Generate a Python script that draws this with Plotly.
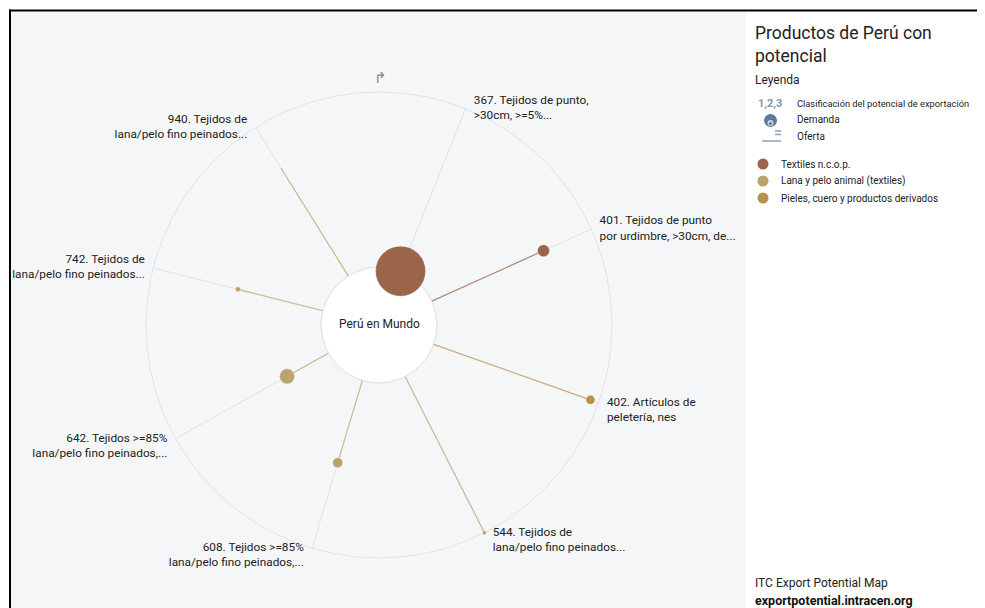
import plotly.graph_objects as go

# ---------------- data ----------------
codes = ["367", "401", "402", "544", "608", "642", "742", "940"]
labels = [
    "367. Tejidos de punto,<br>>30cm, >=5%...",
    "401. Tejidos de punto<br>por urdimbre, >30cm, de...",
    "402. Artículos de<br>peletería, nes",
    "544. Tejidos de<br>lana/pelo fino peinados...",
    "608. Tejidos >=85%<br>lana/pelo fino peinados,...",
    "642. Tejidos >=85%<br>lana/pelo fino peinados,...",
    "742. Tejidos de<br>lana/pelo fino peinados...",
    "940. Tejidos de<br>lana/pelo fino peinados...",
]
angles = [21.8, 65.7, 109.5, 153.1, 196.7, 240.8, 284.2, 328.0]
supply_pos = [0.0, 0.70, 0.95, 1.0, 0.49, 0.27, 0.50, 0.72]
demand_size = [50, 12, 9, 4, 10, 15, 5, 2]
sectors = ["Textiles n.c.o.p.", "Textiles n.c.o.p.", "Pieles, cuero y productos derivados",
           "Lana y pelo animal (textiles)", "Lana y pelo animal (textiles)",
           "Lana y pelo animal (textiles)", "Lana y pelo animal (textiles)",
           "Lana y pelo animal (textiles)"]
sector_names = ["Textiles n.c.o.p.", "Lana y pelo animal (textiles)",
                "Pieles, cuero y productos derivados"]
sector_colors = {"Textiles n.c.o.p.": "#9b654a",
                 "Lana y pelo animal (textiles)": "#bba46c",
                 "Pieles, cuero y productos derivados": "#b8914f"}

# page has an 8px body margin: work in viewport pixels and convert
OFF = 8
W, H = 985 - OFF, 608 - OFF
FONT = "Roboto, Arial, sans-serif"
CX, CY, R_OUT, R_IN = 379, 325, 233, 58


def px(x):
    return (x - OFF) / W


def py(y):
    return 1 - (y - OFF) / H


fig = go.Figure()

# spokes
for i, code in enumerate(codes):
    col = sector_colors[sectors[i]]
    fig.add_trace(go.Scatterpolar(
        r=[supply_pos[i], 1.0], theta=[angles[i], angles[i]], mode="lines",
        line=dict(color="#e1e1e1", width=1), hoverinfo="skip", showlegend=False))
    if supply_pos[i] > 0:
        fig.add_trace(go.Scatterpolar(
            r=[0, supply_pos[i]], theta=[angles[i], angles[i]], mode="lines",
            line=dict(color=col, width=1.2), opacity=0.75,
            hoverinfo="skip", showlegend=False))

# labels: pad away from the circle, lower half pushed down a little
PAD = "\u00a0\u00a0\u2009"
label_texts, positions = [], []
for lab, a in zip(labels, angles):
    lines = lab.split("<br>")
    right = a < 180
    if right:
        lines = [PAD + ln for ln in lines]
    else:
        lines = [ln + PAD for ln in lines]
    txt = "<br>".join(lines)
    if 95 < a < 265:
        txt = "\u00a0<br>" + txt
    label_texts.append(txt)
    positions.append("middle right" if right else "middle left")

fig.add_trace(go.Scatterpolar(
    r=[1.0] * len(codes), theta=angles, mode="text", text=label_texts,
    textposition=positions, cliponaxis=False,
    textfont=dict(family=FONT, size=11.8, color="#222222"),
    hoverinfo="skip", showlegend=False))

# dots
fig.add_trace(go.Scatterpolar(
    r=supply_pos, theta=angles, mode="markers", cliponaxis=False,
    marker=dict(size=demand_size, color=[sector_colors[s] for s in sectors],
                line=dict(color="rgba(255,255,255,0.6)", width=0.5), opacity=1),
    text=codes, hoverinfo="text", showlegend=False))

shapes = [
    # chart panel background
    dict(type="rect", xref="paper", yref="paper", x0=px(11), x1=px(746), y0=0, y1=py(11),
         fillcolor="#f5f6f8", line=dict(width=0), layer="below"),
    # black frame
    dict(type="rect", xref="paper", yref="paper", x0=px(9), x1=1, y0=py(11.5), y1=py(9.5),
         fillcolor="#000000", line=dict(width=0), layer="below"),
    dict(type="rect", xref="paper", yref="paper", x0=px(9), x1=px(11), y0=0, y1=py(9.5),
         fillcolor="#000000", line=dict(width=0), layer="below"),
    # centre circle
    dict(type="circle", xref="paper", yref="paper",
         x0=px(CX - R_IN), x1=px(CX + R_IN), y0=py(CY + R_IN), y1=py(CY - R_IN),
         fillcolor="#ffffff", line=dict(color="#ececec", width=1), layer="below"),
    # legend icons: demanda
    dict(type="circle", xref="paper", yref="paper",
         x0=px(764), x1=px(777), y0=py(127), y1=py(114),
         fillcolor="#5d7898", line=dict(width=0)),
    dict(type="circle", xref="paper", yref="paper",
         x0=px(767.5), x1=px(773.5), y0=py(126), y1=py(120),
         fillcolor="#c9d4e0", line=dict(width=0)),
    dict(type="circle", xref="paper", yref="paper",
         x0=px(769), x1=px(772), y0=py(125), y1=py(122),
         fillcolor="#5d7898", line=dict(width=0)),
    # legend icons: oferta
    dict(type="line", xref="paper", yref="paper", x0=px(775), x1=px(781), y0=py(131), y1=py(131),
         line=dict(color="#8da3bb", width=1.5)),
    dict(type="line", xref="paper", yref="paper", x0=px(775), x1=px(781), y0=py(134.5), y1=py(134.5),
         line=dict(color="#8da3bb", width=1.5)),
    dict(type="line", xref="paper", yref="paper", x0=px(762), x1=px(781), y0=py(141), y1=py(141),
         line=dict(color="#8da3bb", width=1.5)),
]
# legend sector dots
for k, s in enumerate(sector_names):
    yy = 164 + 17 * k
    shapes.append(dict(type="circle", xref="paper", yref="paper",
                       x0=px(757.5), x1=px(768.5), y0=py(yy + 5.5), y1=py(yy - 5.5),
                       fillcolor=sector_colors[s], line=dict(width=0)))

ann = []


def add_text(x, y, text, size=10, color="#222222", anchor="left", yanchor="middle"):
    ann.append(dict(x=px(x), y=py(y), xref="paper", yref="paper", text=text,
                    showarrow=False, xanchor=anchor, yanchor=yanchor, align="left",
                    font=dict(family=FONT, size=size, color=color)))


add_text(379, 324, "Perú en Mundo", size=12, color="#222222", anchor="center")
add_text(380, 78, "↱", size=15, color="#8a8a8a", anchor="center")

add_text(753, 44, "Productos de Perú con<br>potencial", size=17.5, color="#222222")
add_text(753, 80, "Leyenda", size=12)
add_text(756, 103, "<b>1,2,3</b>", size=11, color="#7f97b3")
add_text(795, 103, "Clasificación del potencial de exportación", size=9.3)
add_text(795, 120, "Demanda", size=10)
add_text(795, 137, "Oferta", size=10)
for k, s in enumerate(sector_names):
    yy = 164 + 17 * k
    add_text(779, yy, s, size=10)

add_text(753, 583, "ITC Export Potential Map", size=12)
add_text(753, 600, "<b>exportpotential.intracen.org</b>", size=12.5, color="#111111")

fig.update_layout(
    width=W, height=H,
    margin=dict(l=0, r=0, t=0, b=0),
    paper_bgcolor="#ffffff",
    showlegend=False,
    shapes=shapes,
    annotations=ann,
    polar=dict(
        domain=dict(x=[px(CX - R_OUT), px(CX + R_OUT)], y=[py(CY + R_OUT), py(CY - R_OUT)]),
        hole=R_IN / R_OUT,
        bgcolor="rgba(0,0,0,0)",
        radialaxis=dict(range=[0, 1], visible=False, showgrid=False, layer="below traces"),
        angularaxis=dict(rotation=90, direction="clockwise", showgrid=False,
                         showticklabels=False, ticks="", showline=True,
                         linecolor="#e3e3e3", linewidth=1, layer="below traces"),
    ),
)

fig.write_html("out.html")
